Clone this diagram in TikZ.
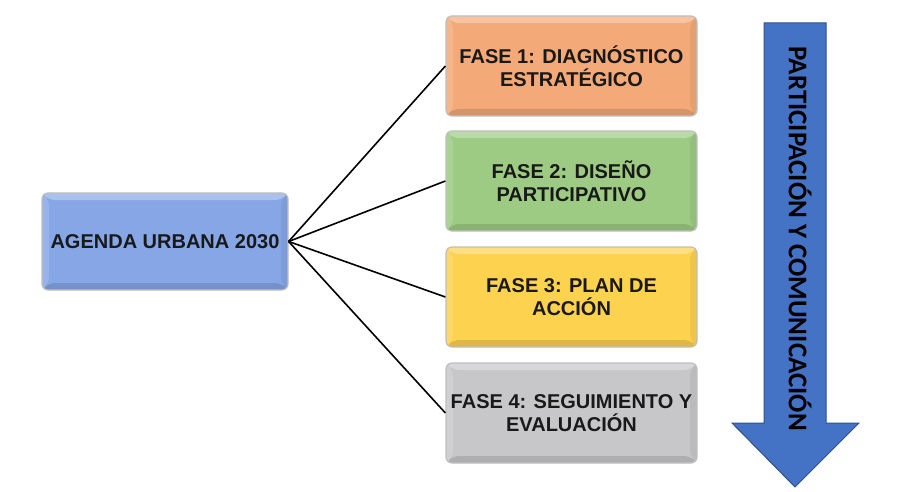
\documentclass[tikz,border=0pt]{standalone}
\usepackage{fontspec}
\setmainfont{Liberation Sans}
\newfontfamily\arrowfont{Carlito}
\definecolor{agblue}{HTML}{86A6E6}
\definecolor{faseor}{HTML}{F4AA78}
\definecolor{fasegr}{HTML}{9DCB84}
\definecolor{faseye}{HTML}{FDD24E}
\definecolor{fasegy}{HTML}{C7C7C9}
\definecolor{arrblue}{HTML}{4472C4}
\definecolor{arrline}{HTML}{2F528F}
\begin{document}
\begin{tikzpicture}[x=1pt,y=-1pt,font=\fontsize{20}{23}\selectfont\bfseries,
    box/.style={draw=black!25,line width=1.2pt,rounded corners=6pt,align=center,
      minimum height=100pt,inner sep=0pt,text=black!90,
      path picture={
        \fill[white,opacity=.3] (path picture bounding box.north west) -- (path picture bounding box.north east)
          -- ([shift={(-7pt,-7pt)}]path picture bounding box.north east) -- ([shift={(7pt,-7pt)}]path picture bounding box.north west) -- cycle;
        \fill[white,opacity=.15] (path picture bounding box.north west) -- (path picture bounding box.south west)
          -- ([shift={(7pt,7pt)}]path picture bounding box.south west) -- ([shift={(7pt,-7pt)}]path picture bounding box.north west) -- cycle;
        \fill[black,opacity=.12] (path picture bounding box.south west) -- (path picture bounding box.south east)
          -- ([shift={(-7pt,7pt)}]path picture bounding box.south east) -- ([shift={(7pt,7pt)}]path picture bounding box.south west) -- cycle;
        \fill[black,opacity=.06] (path picture bounding box.north east) -- (path picture bounding box.south east)
          -- ([shift={(-7pt,7pt)}]path picture bounding box.south east) -- ([shift={(-7pt,-7pt)}]path picture bounding box.north east) -- cycle;
      }},
    fase/.style={box,minimum width=251pt},
    link/.style={draw=black,line width=1.6pt}]
\useasboundingbox (0,0) rectangle (908,492);
\node[box,fill=agblue,minimum width=246pt,minimum height=97pt] (agenda) at (165,241.5) {AGENDA URBANA 2030};
\node[fase,fill=faseor] (fase1) at (571.5,66) {FASE 1: DIAGNÓSTICO\\ESTRATÉGICO};
\node[fase,fill=fasegr] (fase2) at (571.5,181) {FASE 2: DISEÑO\\PARTICIPATIVO};
\node[fase,fill=faseye] (fase3) at (571.5,297) {FASE 3: PLAN DE\\ACCIÓN};
\node[fase,fill=fasegy] (fase4) at (571.5,413) {FASE 4: SEGUIMIENTO Y\\EVALUACIÓN};
\foreach \i in {1,...,4}
  \draw[link] (agenda.east) -- (fase\i.west);
% flecha de participacion
\coordinate (tip) at (795,487);
\fill[arrblue,draw=arrline,line width=1pt] (764,23) -- (826,23) -- (826,423) -- (859,423)
  -- (tip) -- (732,423) -- (764,423) -- cycle;
\node[font=\arrowfont\fontsize{27}{27}\selectfont\bfseries,rotate=-90,text=black] (lbl) at (800,238.5)
  {PARTICIPACIÓN Y COMUNICACIÓN};
\end{tikzpicture}
\end{document}
